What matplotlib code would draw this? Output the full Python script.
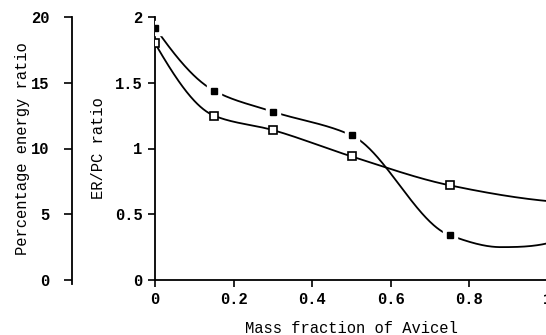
import numpy as np
import matplotlib
matplotlib.use("Agg")
import matplotlib.pyplot as plt

# Data
mass_fraction = [0.0, 0.15, 0.30, 0.50, 0.75]
er_pc_filled = [1.92, 1.44, 1.28, 1.10, 0.34]
er_pc_open = [1.80, 1.25, 1.14, 0.94, 0.72]
# tail of the drawn smooth curves beyond the last marker
tail_x_filled = [0.88, 1.0]
tail_y_filled = [0.25, 0.28]
tail_x_open = [1.0]
tail_y_open = [0.60]

x_ticks = [0, 0.2, 0.4, 0.6, 0.8, 1]
x_ticklabels = ["0", "0.2", "0.4", "0.6", "0.8", "1"]
er_ticks = [0, 0.5, 1, 1.5, 2]
er_ticklabels = ["0", "0.5", "1", "1.5", "2"]
pct_ticks = [0, 5, 10, 15, 20]


def pchip(xk, yk, xs):
    xk = np.asarray(xk, float); yk = np.asarray(yk, float)
    h = np.diff(xk); d = np.diff(yk) / h
    n = len(xk)
    m = np.zeros(n)
    for k in range(1, n - 1):
        if d[k - 1] * d[k] <= 0:
            m[k] = 0
        else:
            w1 = 2 * h[k] + h[k - 1]; w2 = h[k] + 2 * h[k - 1]
            m[k] = (w1 + w2) / (w1 / d[k - 1] + w2 / d[k])

    def edge(h0, h1, d0, d1):
        mm = ((2 * h0 + h1) * d0 - h0 * d1) / (h0 + h1)
        if np.sign(mm) != np.sign(d0):
            mm = 0
        elif np.sign(d0) != np.sign(d1) and abs(mm) > abs(3 * d0):
            mm = 3 * d0
        return mm
    m[0] = edge(h[0], h[1], d[0], d[1])
    m[-1] = edge(h[-1], h[-2], d[-1], d[-2])
    out = np.empty_like(xs)
    for j, x in enumerate(xs):
        i = min(max(np.searchsorted(xk, x) - 1, 0), n - 2)
        t = (x - xk[i]) / h[i]
        h00 = 2 * t**3 - 3 * t**2 + 1
        h10 = t**3 - 2 * t**2 + t
        h01 = -2 * t**3 + 3 * t**2
        h11 = t**3 - t**2
        out[j] = h00 * yk[i] + h10 * h[i] * m[i] + h01 * yk[i + 1] + h11 * h[i] * m[i + 1]
    return out


font = "Liberation Mono"
plt.rcParams['font.family'] = [font, 'DejaVu Sans']
plt.rcParams['font.weight'] = 'bold'
fs = 11.2

fig = plt.figure(figsize=(5.46, 3.35), dpi=100)
L = 155 / 546; R = 548 / 546
B = 1 - 280 / 335; T = 1 - 17 / 335
ax = fig.add_axes([L, B, R - L, T - B])

xs = np.linspace(0, 1, 400)
yf = pchip(mass_fraction + tail_x_filled, er_pc_filled + tail_y_filled, xs)
yo = pchip(mass_fraction + tail_x_open, er_pc_open + tail_y_open, xs)

ax.plot(xs, yo, color='black', lw=1.3, zorder=2)
ax.plot(xs, yf, color='black', lw=1.3, zorder=2)
# white halo around filled markers (gaps in the line)
ax.plot(mass_fraction, er_pc_filled, ls='none', marker='s', ms=10,
        mfc='white', mec='white', zorder=3)
ax.plot(mass_fraction, er_pc_filled, ls='none', marker='s', ms=4,
        mfc='black', mec='black', zorder=4)
ax.plot(mass_fraction, er_pc_open, ls='none', marker='s', ms=5.5,
        mfc='white', mec='black', mew=1.2, zorder=4)

ax.set_xlim(0, 1)
ax.set_ylim(0, 2)
ax.spines['top'].set_visible(False)
ax.spines['right'].set_visible(False)
for s in ['left', 'bottom']:
    ax.spines[s].set_linewidth(1.3)
ax.set_xticks(x_ticks)
ax.set_xticklabels(x_ticklabels)
ax.set_yticks(er_ticks)
ax.set_yticklabels(er_ticklabels)
ax.tick_params(direction='out', length=5, width=1.2, labelsize=fs, pad=4)
ax.set_xlabel("Mass fraction of Avicel", fontsize=fs, labelpad=10)
ax.set_ylabel("ER/PC ratio", fontsize=fs, labelpad=6)

# separate left axis for percentage energy ratio
ax2 = fig.add_axes([72 / 546, B, 0.001, T - B])
ax2.set_ylim(0, 20)
ax2.set_yticks(pct_ticks)
ax2.set_yticklabels([str(v) for v in pct_ticks])
ax2.set_xticks([])
for s in ['top', 'right', 'bottom']:
    ax2.spines[s].set_visible(False)
ax2.spines['left'].set_linewidth(1.3)
ax2.spines['left'].set_bounds(-0.3, 20)
ax2.patch.set_visible(False)
ax2.tick_params(direction='out', length=6, width=1.2, labelsize=fs, pad=10)
ax2.set_ylabel("Percentage energy ratio", fontsize=fs, labelpad=1)

fig.savefig("out.png", dpi=100)
